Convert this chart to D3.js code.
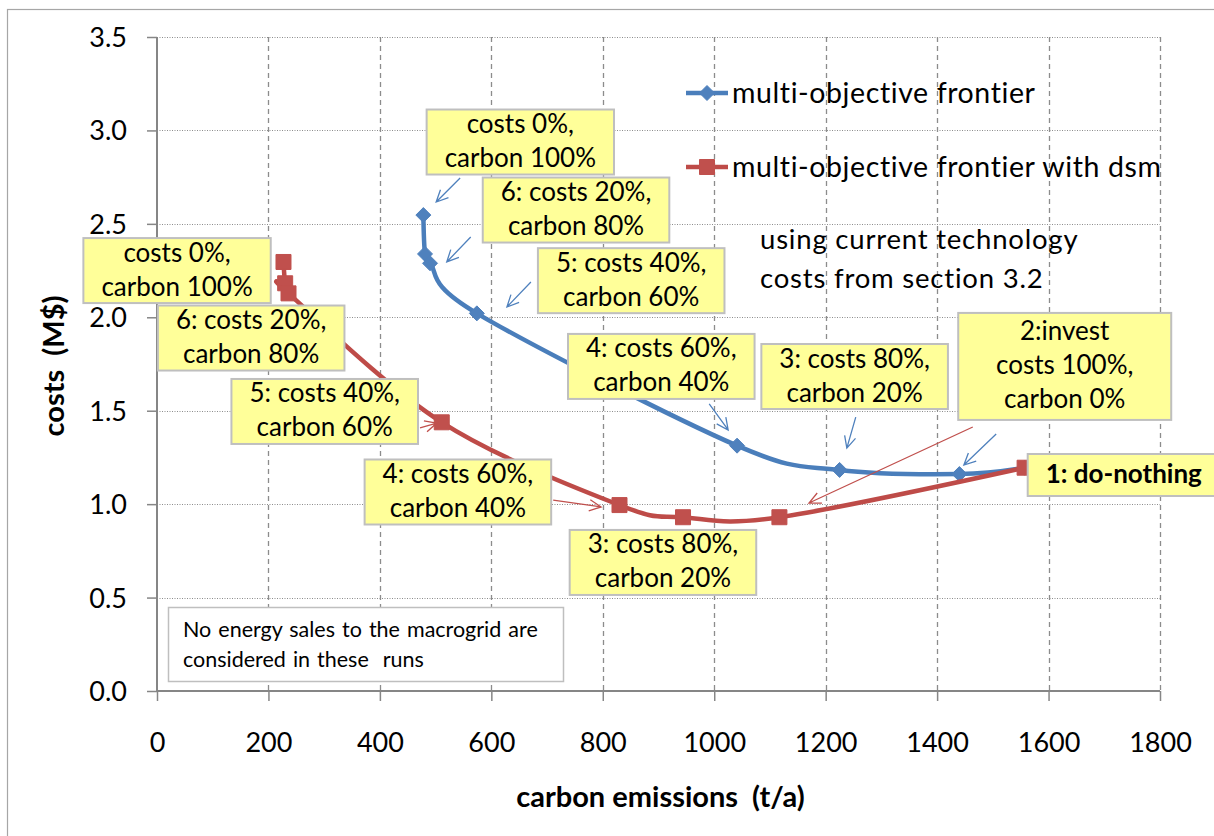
<!DOCTYPE html>
<html>
<head>
<meta charset="utf-8">
<script src="https://cdn.jsdelivr.net/npm/d3@7"></script>
<style>
  html, body { margin: 0; padding: 0; background: #ffffff; }
  svg { display: block; font-family: Lato, "Open Sans", sans-serif; }
</style>
</head>
<body>
<svg id="chart" width="1214" height="836"></svg>
<script>
// ---------- data ----------
const xTickValues = [0, 200, 400, 600, 800, 1000, 1200, 1400, 1600, 1800];
const yTickValues = [0, 0.5, 1.0, 1.5, 2.0, 2.5, 3.0, 3.5];

const seriesNames = ["multi-objective frontier", "multi-objective frontier with dsm"];

const frontierEmissions = [478, 481, 490, 574, 1041, 1225, 1440, 1557];
const frontierCosts     = [2.547, 2.339, 2.289, 2.021, 1.313, 1.183, 1.161, 1.195];

const dsmEmissions = [227, 230, 236, 511, 830, 944, 1117, 1557];
const dsmCosts     = [2.296, 2.182, 2.128, 1.438, 0.995, 0.930, 0.930, 1.195];

const xTitle = "carbon emissions  (t/a)";
const yTitle = "costs  (M$)";
const noteLines = ["No energy sales to the macrogrid are", "considered in these  runs"];
const infoLines = ["using current technology", "costs from section 3.2"];

// annotation boxes: centre in data units
const annotations = [
  {lines: ["costs 0%,", "carbon 100%"], x: 652, y: 2.938, s: 0},
  {lines: ["6: costs 20%,", "carbon 80%"], x: 752, y: 2.574, s: 0},
  {lines: ["5: costs 40%,", "carbon 60%"], x: 851, y: 2.196, s: 0},
  {lines: ["4: costs 60%,", "carbon 40%"], x: 905, y: 1.737, s: 0},
  {lines: ["3: costs 80%,", "carbon 20%"], x: 1252, y: 1.683, s: 0},
  {lines: ["2:invest", "costs 100%,", "carbon 0%"], x: 1629, y: 1.737, s: 0, minW: 213},
  {lines: ["1: do-nothing"], x: 1735, y: 1.156, s: 1, bold: true},
  {lines: ["costs 0%,", "carbon 100%"], x: 36, y: 2.250, s: 1},
  {lines: ["6: costs 20%,", "carbon 80%"], x: 169, y: 1.889, s: 1},
  {lines: ["5: costs 40%,", "carbon 60%"], x: 301, y: 1.496, s: 1},
  {lines: ["4: costs 60%,", "carbon 40%"], x: 540, y: 1.065, s: 1},
  {lines: ["3: costs 80%,", "carbon 20%"], x: 908, y: 0.688, s: 1}
];
// arrows: from (x1,y1) to (x2,y2) in data units
const arrows = [
  {x1: 544, y1: 2.745, x2: 501, y2: 2.617, s: 0},
  {x1: 563, y1: 2.430, x2: 520, y2: 2.296, s: 0},
  {x1: 671, y1: 2.189, x2: 628, y2: 2.055, s: 0},
  {x1: 991, y1: 1.536, x2: 1025, y2: 1.397, s: 0},
  {x1: 1254, y1: 1.466, x2: 1238, y2: 1.300, s: 0},
  {x1: 1506, y1: 1.375, x2: 1448, y2: 1.209, s: 0},
  {x1: 1464, y1: 1.413, x2: 1170, y2: 1.006, s: 1},
  {x1: 711, y1: 1.022, x2: 797, y2: 0.985, s: 1},
  {x1: 472, y1: 1.408, x2: 502, y2: 1.434, s: 1}
];

// ---------- layout ----------
const plot = {left: 157, right: 1160, top: 37, bottom: 691};
const lineColors = ["#4A7EBB", "#BE4B48"];
const markerColors = ["#4F81BD", "#C0504D"];
const fontMain = 26;
const fontTick = 27;
const fontTitle = 29;

const svg = d3.select("#chart");

const x = d3.scaleLinear().domain([0, 1800]).range([plot.left, plot.right]);
const y = d3.scaleLinear().domain([0, 3.5]).range([plot.bottom, plot.top]);

// chart frame
svg.append("rect").attr("x", 7.5).attr("y", 9.5).attr("width", 1400).attr("height", 1000)
  .attr("fill", "none").attr("stroke", "#A6A6A6").attr("stroke-width", 1.2);

// gridlines
const grid = svg.append("g");
grid.selectAll("line.h").data(yTickValues.filter(d => d > 0)).join("line")
  .attr("x1", plot.left).attr("x2", plot.right)
  .attr("y1", d => Math.round(y(d)) + 0.5).attr("y2", d => Math.round(y(d)) + 0.5)
  .attr("stroke", "#8C8C8C").attr("stroke-width", 1).attr("stroke-dasharray", "1,1.5");
grid.selectAll("line.v").data(xTickValues.filter(d => d > 0)).join("line")
  .attr("x1", d => Math.round(x(d)) + 0.5).attr("x2", d => Math.round(x(d)) + 0.5)
  .attr("y1", plot.top).attr("y2", plot.bottom)
  .attr("stroke", "#8C8C8C").attr("stroke-width", 1.3).attr("stroke-dasharray", "5,4");

// axes
const xAxis = d3.axisBottom(x).tickValues(xTickValues).tickSize(10).tickPadding(32).tickFormat(d3.format("d"));
const yAxis = d3.axisLeft(y).tickValues(yTickValues).tickSize(10).tickPadding(20).tickFormat(d3.format(".1f"));

const gx = svg.append("g").attr("transform", `translate(0,${plot.bottom})`).call(xAxis);
const gy = svg.append("g").attr("transform", `translate(${plot.left},0)`).call(yAxis);
[gx, gy].forEach(g => {
  g.select(".domain").attr("stroke", "#868686").attr("stroke-width", 2);
  g.selectAll(".tick line").attr("stroke", "#868686").attr("stroke-width", 1.5);
  g.selectAll(".tick text").attr("fill", "#000").attr("font-size", fontTick)
    .attr("font-family", "Lato, sans-serif");
});
gx.select(".domain").attr("d", `M${plot.left},0H${plot.right}`);
gy.select(".domain").attr("d", `M0,${plot.bottom}V${plot.top}`);
gx.selectAll(".tick text").attr("dy", "0.71em");
gy.selectAll(".tick text").attr("dy", "0.35em");

// axis titles
svg.append("text").attr("x", (plot.left + plot.right) / 2 + 2).attr("y", 807)
  .attr("text-anchor", "middle").attr("font-weight", "bold").attr("font-size", fontTitle)
  .style("white-space", "pre")
  .text(xTitle);
svg.append("text")
  .attr("transform", `translate(64,${(plot.top + plot.bottom) / 2 + 2}) rotate(-90)`)
  .attr("text-anchor", "middle").attr("font-weight", "bold").attr("font-size", fontTitle)
  .style("white-space", "pre")
  .text(yTitle);

// series
const series = [
  frontierEmissions.map((e, i) => ({e, c: frontierCosts[i]})),
  dsmEmissions.map((e, i) => ({e, c: dsmCosts[i]}))
];
const line = d3.line().x(d => x(d.e)).y(d => y(d.c)).curve(d3.curveCardinal.tension(0));

const diamond = r => `M0,${-r}L${r},0L0,${r}L${-r},0Z`;
const square = r => `M${-r},${-r}H${r}V${r}H${-r}Z`;
const markerPath = [diamond(7.5), square(7.5)];

series.forEach((pts, s) => {
  svg.append("path").datum(pts).attr("d", line)
    .attr("fill", "none").attr("stroke", lineColors[s]).attr("stroke-width", 4.5)
    .attr("stroke-linejoin", "round").attr("stroke-linecap", "round");
  svg.append("g").selectAll("path").data(pts).join("path")
    .attr("transform", d => `translate(${x(d.e)},${y(d.c)})`)
    .attr("d", markerPath[s]).attr("fill", markerColors[s]).attr("stroke", markerColors[s]).attr("stroke-width", 1);
});

// note box
svg.append("rect").attr("x", 168.5).attr("y", 607.5).attr("width", 395).attr("height", 74)
  .attr("fill", "#fff").attr("stroke", "#BFBFBF").attr("stroke-width", 1.5);
noteLines.forEach((t, i) => {
  svg.append("text").attr("x", 183).attr("y", 637 + i * 30)
    .attr("font-size", 21.5).attr("word-spacing", 1.5).style("white-space", "pre").text(t);
});

// info text
infoLines.forEach((t, i) => {
  svg.append("text").attr("x", 760).attr("y", 249 + i * 39)
    .attr("font-size", 27.5).attr("letter-spacing", 0.8).text(t);
});

// legend
seriesNames.forEach((name, s) => {
  const ly = 93 + s * 74;
  const g = svg.append("g");
  g.append("line").attr("x1", 686).attr("x2", 728).attr("y1", ly).attr("y2", ly)
    .attr("stroke", lineColors[s]).attr("stroke-width", 4.5);
  g.append("path").attr("transform", `translate(707,${ly})`).attr("d", markerPath[s])
    .attr("fill", markerColors[s]).attr("stroke", markerColors[s]);
  g.append("text").attr("x", 732).attr("y", ly + 10).attr("font-size", 28.5)
    .attr("letter-spacing", 0.6).style("white-space", "pre").text(name);
});

// arrows
function arrow(a) {
  const X1 = x(a.x1), Y1 = y(a.y1), X2 = x(a.x2), Y2 = y(a.y2);
  const ang = Math.atan2(Y2 - Y1, X2 - X1);
  const L = 13, spread = 0.45;
  const p1 = [X2 - L * Math.cos(ang - spread), Y2 - L * Math.sin(ang - spread)];
  const p2 = [X2 - L * Math.cos(ang + spread), Y2 - L * Math.sin(ang + spread)];
  return `M${X1},${Y1}L${X2},${Y2}M${p1[0]},${p1[1]}L${X2},${Y2}L${p2[0]},${p2[1]}`;
}
svg.append("g").selectAll("path").data(arrows).join("path")
  .attr("d", arrow).attr("fill", "none")
  .attr("stroke", d => markerColors[d.s]).attr("stroke-width", 1.3);

// annotation boxes
const ag = svg.append("g");
annotations.forEach(a => {
  const cx = x(a.x), cy = y(a.y);
  const g = ag.append("g");
  const texts = a.lines.map((t, i) => g.append("text")
    .attr("x", cx).attr("y", cy + (i - (a.lines.length - 1) / 2) * 34 + 8)
    .attr("text-anchor", "middle").attr("font-size", fontMain)
    .attr("font-weight", a.bold ? "bold" : "normal")
    .style("white-space", "pre").text(t));
  const tw = d3.max(texts, t => t.node().getComputedTextLength());
  const w = Math.max(tw + 36, a.minW || 0);
  const h = a.lines.length * 34 + (a.lines.length === 1 ? 8 : (a.lines.length === 3 ? 5 : -3));
  g.insert("rect", "text").attr("x", cx - w / 2).attr("y", cy - h / 2).attr("width", w).attr("height", h)
    .attr("fill", "#FFFF99").attr("stroke", "#BFBFBF").attr("stroke-width", 2);
});
</script>
</body>
</html>
